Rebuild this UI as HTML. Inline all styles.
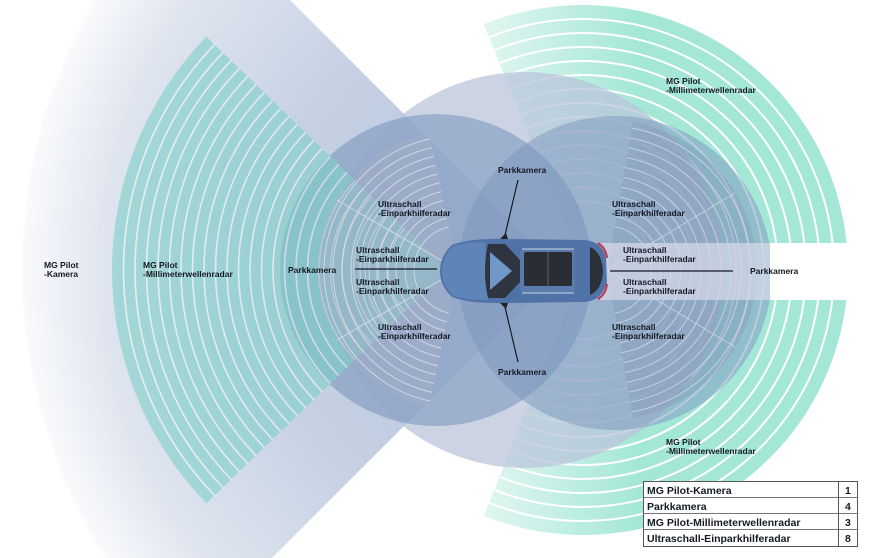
<!DOCTYPE html>
<html><head><meta charset="utf-8"><style>
html,body{margin:0;padding:0;background:#fff;width:885px;height:558px;overflow:hidden;}
svg{display:block;}
text{font-family:"Liberation Sans",sans-serif;font-size:8.5px;font-weight:bold;fill:#141a24;}
</style></head><body>
<svg width="885" height="558" viewBox="0 0 885 558" xmlns="http://www.w3.org/2000/svg" overflow="hidden">
<defs>
<radialGradient id="cam" gradientUnits="userSpaceOnUse" cx="560" cy="270" r="538">
<stop offset="0" stop-color="#b2c0d9"/><stop offset="0.55" stop-color="#c6d1e3"/><stop offset="0.85" stop-color="#dfe5ef"/><stop offset="1" stop-color="#f9fafc"/>
</radialGradient>
<linearGradient id="tealR" gradientUnits="userSpaceOnUse" x1="480" y1="0" x2="640" y2="0">
<stop offset="0" stop-color="#e2f6f1"/><stop offset="1" stop-color="#a4e7d7"/>
</linearGradient>
<clipPath id="cL"><path d="M448,270 L206.3,36.6 A336,336 0 0 0 206.3,503.4 Z"/></clipPath>
<clipPath id="cR"><path d="M583,270 L483.7,24.3 A265,265 0 1 1 483.7,515.7 Z"/></clipPath>
<clipPath id="uL"><path d="M458,270 L428.9,133.1 A140,140 0 0 0 428.9,406.9 Z"/></clipPath>
<clipPath id="uR"><path d="M607,270 L633,122.3 A150,150 0 0 1 633,417.7 Z"/></clipPath>
<clipPath id="page"><rect x="0" y="0" width="885" height="558"/></clipPath>
</defs>
<g clip-path="url(#page)">
<path d="M560,270 L179.6,-110.4 A538,538 0 0 0 179.6,650.4 Z" fill="url(#cam)"/>

<g clip-path="url(#cR)">
<rect x="470" y="0" width="415" height="558" fill="url(#tealR)"/>
<g fill="none" stroke="#fff" stroke-width="2">
<circle cx="583" cy="270" r="251"/><circle cx="583" cy="270" r="237"/><circle cx="583" cy="270" r="223"/><circle cx="583" cy="270" r="209"/><circle cx="583" cy="270" r="195"/><circle cx="583" cy="270" r="181"/><circle cx="583" cy="270" r="167"/><circle cx="583" cy="270" r="153"/><circle cx="583" cy="270" r="139"/><circle cx="583" cy="270" r="125"/><circle cx="583" cy="270" r="111"/><circle cx="583" cy="270" r="97"/><circle cx="583" cy="270" r="83"/><circle cx="583" cy="270" r="69"/>
</g>
</g>

<circle cx="525" cy="270" r="198" fill="#b9c3da" opacity="0.72"/>
<circle cx="436" cy="270" r="156" fill="#7b96bd" opacity="0.58"/>
<circle cx="615" cy="273" r="157" fill="#7b96bd" opacity="0.5"/>

<g clip-path="url(#cL)" opacity="0.62">
<rect x="100" y="30" width="360" height="480" fill="#80d1c9"/>
<g fill="none" stroke="#eef6f8" stroke-width="1.6">
<circle cx="448" cy="270" r="324.5"/><circle cx="448" cy="270" r="313"/><circle cx="448" cy="270" r="301.5"/><circle cx="448" cy="270" r="290"/><circle cx="448" cy="270" r="278.5"/><circle cx="448" cy="270" r="267"/><circle cx="448" cy="270" r="255.5"/><circle cx="448" cy="270" r="244"/><circle cx="448" cy="270" r="232.5"/><circle cx="448" cy="270" r="221"/><circle cx="448" cy="270" r="209.5"/><circle cx="448" cy="270" r="198"/><circle cx="448" cy="270" r="186.5"/><circle cx="448" cy="270" r="175"/><circle cx="448" cy="270" r="163.5"/><circle cx="448" cy="270" r="152"/><circle cx="448" cy="270" r="140.5"/><circle cx="448" cy="270" r="129"/><circle cx="448" cy="270" r="117.5"/><circle cx="448" cy="270" r="106"/><circle cx="448" cy="270" r="94.5"/><circle cx="448" cy="270" r="83"/><circle cx="448" cy="270" r="71.5"/><circle cx="448" cy="270" r="60"/>
</g>
</g>

<g clip-path="url(#uL)">
<rect x="300" y="120" width="170" height="300" fill="#a4aec6" opacity="0.45"/>
<g fill="none" stroke="#e6e9f2" stroke-width="1" opacity="0.7">
<circle cx="458" cy="270" r="134"/><circle cx="458" cy="270" r="125"/><circle cx="458" cy="270" r="116"/><circle cx="458" cy="270" r="107"/><circle cx="458" cy="270" r="98"/><circle cx="458" cy="270" r="89"/><circle cx="458" cy="270" r="80"/><circle cx="458" cy="270" r="71"/><circle cx="458" cy="270" r="62"/><circle cx="458" cy="270" r="53"/><circle cx="458" cy="270" r="44"/>
<line x1="458" y1="270" x2="330" y2="196"/><line x1="458" y1="270" x2="330" y2="344"/>
</g>
</g>
<g clip-path="url(#uR)">
<rect x="600" y="110" width="170" height="320" fill="#7d93b4" opacity="0.3"/>
<g fill="none" stroke="#e6e9f2" stroke-width="1" opacity="0.6">
<circle cx="607" cy="270" r="144"/><circle cx="607" cy="270" r="134"/><circle cx="607" cy="270" r="124"/><circle cx="607" cy="270" r="114"/><circle cx="607" cy="270" r="104"/><circle cx="607" cy="270" r="94"/><circle cx="607" cy="270" r="84"/><circle cx="607" cy="270" r="74"/><circle cx="607" cy="270" r="64"/><circle cx="607" cy="270" r="54"/><circle cx="607" cy="270" r="44"/>
<line x1="607" y1="270" x2="740" y2="190"/><line x1="607" y1="270" x2="740" y2="350"/>
</g>
</g>

<rect x="770" y="243" width="115" height="57" fill="#fff"/>
<rect x="600" y="243" width="170" height="57" fill="#d3d8e7" opacity="0.75"/>

<g>
<path d="M452,245 Q470,238 505,239 L585,240 Q603,242 606,258 L607,282 Q603,300 585,302 L505,303 Q470,304 452,297 Q440,286 440,271 Q440,256 452,245 Z" fill="#4f73a6"/>
<path d="M452,247 Q462,242 485,242 L488,300 Q462,300 452,295 Q442,284 442,271 Q442,258 452,247 Z" fill="#5f84b8"/>
<path d="M488,244 L505,244 L520,260 L520,282 L505,298 L488,298 Q482,271 488,244 Z" fill="#2e3440"/>
<path d="M490,252 L512,271 L490,290 Z" fill="#6f98c8"/>
<rect x="520" y="249" width="55" height="44" rx="4" fill="#5a7cad"/>
<rect x="524" y="252" width="48" height="34" rx="2" fill="#2a2d33"/>
<line x1="548" y1="252" x2="548" y2="286" stroke="#5a6577" stroke-width="1"/>
<line x1="522" y1="249" x2="574" y2="249" stroke="#c9d3e3" stroke-width="1"/>
<line x1="522" y1="293" x2="574" y2="293" stroke="#c9d3e3" stroke-width="1"/>
<path d="M590,247 Q602,252 603,271 Q602,290 590,295 Z" fill="#2c3038"/>
<path d="M598,243 Q606,248 607,258" stroke="#c8304a" stroke-width="2" fill="none"/>
<path d="M598,299 Q606,294 607,284" stroke="#c8304a" stroke-width="2" fill="none"/>
<path d="M500,239 L506,233 L508,239 Z" fill="#222"/>
<path d="M500,303 L506,309 L508,303 Z" fill="#222"/>
</g>

<g stroke="#141a24" stroke-width="1.2">
<line x1="518" y1="180" x2="505" y2="235"/>
<line x1="505" y1="307" x2="518" y2="362"/>
<line x1="355" y1="269" x2="437" y2="269"/>
<line x1="610" y1="271" x2="733" y2="271"/>
</g>

<text x="44" y="268">MG Pilot</text><text x="44" y="277">-Kamera</text>
<text x="143" y="268">MG Pilot</text><text x="143" y="277">-Millimeterwellenradar</text>
<text x="288" y="273">Parkkamera</text>
<text x="378" y="207">Ultraschall</text><text x="378" y="216">-Einparkhilferadar</text>
<text x="356" y="253">Ultraschall</text><text x="356" y="262">-Einparkhilferadar</text>
<text x="356" y="285">Ultraschall</text><text x="356" y="294">-Einparkhilferadar</text>
<text x="378" y="330">Ultraschall</text><text x="378" y="339">-Einparkhilferadar</text>
<text x="498" y="173">Parkkamera</text>
<text x="498" y="375">Parkkamera</text>
<text x="612" y="207">Ultraschall</text><text x="612" y="216">-Einparkhilferadar</text>
<text x="623" y="253">Ultraschall</text><text x="623" y="262">-Einparkhilferadar</text>
<text x="623" y="285">Ultraschall</text><text x="623" y="294">-Einparkhilferadar</text>
<text x="612" y="330">Ultraschall</text><text x="612" y="339">-Einparkhilferadar</text>
<text x="750" y="274">Parkkamera</text>
<text x="666" y="84">MG Pilot</text><text x="666" y="93">-Millimeterwellenradar</text>
<text x="666" y="445">MG Pilot</text><text x="666" y="454">-Millimeterwellenradar</text>

<g>
<rect x="643.5" y="481.5" width="214" height="65" fill="#fff" stroke="#555" stroke-width="1"/>
<line x1="643.5" y1="497.5" x2="857.5" y2="497.5" stroke="#777"/>
<line x1="643.5" y1="513.5" x2="857.5" y2="513.5" stroke="#777"/>
<line x1="643.5" y1="529.5" x2="857.5" y2="529.5" stroke="#777"/>
<line x1="838.5" y1="481.5" x2="838.5" y2="546.5" stroke="#555"/>
<text x="647" y="494" style="font-size:10.5px">MG Pilot-Kamera</text><text x="845" y="494" style="font-size:10.5px">1</text>
<text x="647" y="510" style="font-size:10.5px">Parkkamera</text><text x="845" y="510" style="font-size:10.5px">4</text>
<text x="647" y="526" style="font-size:10.5px">MG Pilot-Millimeterwellenradar</text><text x="845" y="526" style="font-size:10.5px">3</text>
<text x="647" y="542" style="font-size:10.5px">Ultraschall-Einparkhilferadar</text><text x="845" y="542" style="font-size:10.5px">8</text>
</g>
</g>
</svg>
</body></html>
